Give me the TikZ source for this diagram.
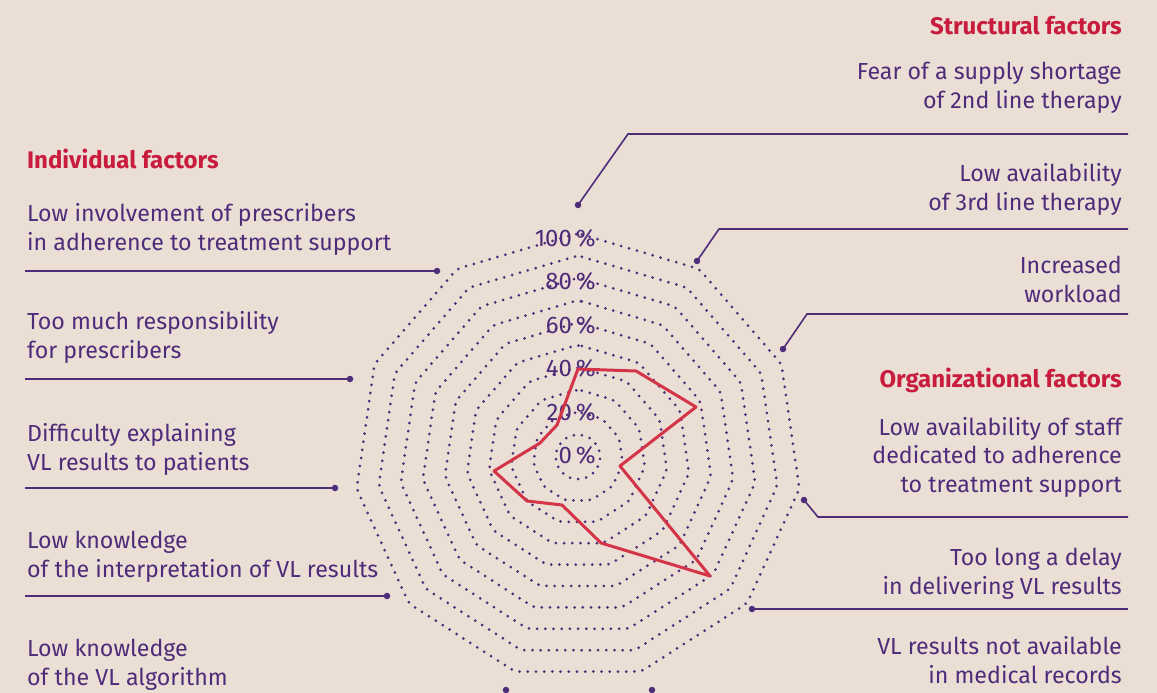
\documentclass[tikz,border=0pt]{standalone}
\usepackage{fontspec}
\setmainfont{Fira Sans}
\definecolor{bg}{RGB}{235,222,212}
\definecolor{pur}{RGB}{76,45,122}
\definecolor{rd}{RGB}{200,28,62}
\definecolor{rdline}{RGB}{212,52,72}
\begin{document}
\begin{tikzpicture}[x=1pt,y=-1pt,
  lbl/.style={font=\fontsize{23.2}{28.5}\selectfont, text=pur, inner sep=0pt},
  lblL/.style={lbl, align=left, anchor=base west},
  lblR/.style={lbl, align=right, anchor=base east},
  hdr/.style={font=\fontsize{24}{28.5}\selectfont\bfseries, text=rd, inner sep=0pt},
  pct/.style={font=\fontsize{24}{28}\selectfont, text=pur, inner sep=0pt, anchor=base east},
  ring/.style={draw=pur, line width=3pt, line cap=round, dash pattern=on 0pt off 8.2pt, rounded corners=4pt},
  leader/.style={draw=pur, line width=1.6pt},
  enddot/.style={circle, fill=pur, inner sep=0pt, minimum size=6.5pt},
  dataline/.style={draw=rdline, line width=3pt, line join=round}]
\fill[bg] (0,0) rectangle (1157,693);
\useasboundingbox (0,0) rectangle (1157,693);

% rings
\begin{scope}[shift={(578,457)}]
  \foreach \k in {1,...,10}{
    \pgfmathsetmacro{\R}{(21.4*\k+0.6)/0.9595}
    \draw[ring] (-90:\R) \foreach \i in {1,...,10}{ -- ({-90+\i*360/11}:\R) } -- cycle;
  }
\end{scope}

% percent labels
\foreach \j/\t in {0/0,1/20,2/40,3/60,4/80,5/100}{
  \node[pct] (p\t) at (596,{463.5-43.4*\j}) {\t\,\%};
}

% data polygon
\coordinate (v0) at (578,369);
\coordinate (v1) at (636,371);
\coordinate (v2) at (696,407);
\coordinate (v3) at (620,466);
\coordinate (v4) at (710,576);
\coordinate (v5) at (601,543);
\coordinate (v6) at (562,505);
\coordinate (v7) at (527,501);
\coordinate (v8) at (494,471);
\coordinate (v9) at (540,443);
\coordinate (v10) at (557,425);
\draw[dataline] (v0) -- (v1) -- (v2) -- (v3) -- (v4) -- (v5) -- (v6) -- (v7) -- (v8) -- (v9) -- (v10) -- cycle;

% headers
\node[hdr, anchor=base east] (struct) at (1122,35) {Structural factors};
\node[hdr, anchor=base west] (indiv) at (27,168) {Individual factors};
\node[hdr, anchor=base east] (org) at (1122,387) {Organizational factors};

% right labels (anchor = baseline of last line)
\node[lblR] (fear) at (1122,108) {Fear of a supply shortage\\of 2nd line therapy};
\node[lblR] (third) at (1122,210) {Low availability\\of 3rd line therapy};
\node[lblR] (work) at (1122,302) {Increased\\workload};
\node[lblR] (staff) at (1122,492) {Low availability of staff\\dedicated to adherence\\to treatment support};
\node[lblR] (delay) at (1122,594) {Too long a delay\\in delivering VL results};
\node[lblR] (records) at (1122,683) {VL results not available\\in medical records};

% left labels
\node[lblL] (involve) at (27,250) {Low involvement of prescribers\\in adherence to treatment support};
\node[lblL] (resp) at (27,358) {Too much responsibility\\for prescribers};
\node[lblL] (explain) at (27,470) {Difficulty explaining\\VL results to patients};
\node[lblL] (interp) at (27,577) {Low knowledge\\of the interpretation of VL results};
\node[lblL] (algo) at (27,685) {Low knowledge\\of the VL algorithm};

% leader dots
\node[enddot] (d1) at (578,205) {};
\node[enddot] (d2) at (697,261) {};
\node[enddot] (d3) at (783,349) {};
\node[enddot] (d4) at (804,500) {};
\node[enddot] (d5) at (752,609) {};
\node[enddot] (d6) at (652,690) {};
\node[enddot] (d7) at (437,271) {};
\node[enddot] (d8) at (350,379) {};
\node[enddot] (d9) at (335,488) {};
\node[enddot] (d10) at (387,596) {};
\node[enddot] (d11) at (506,690) {};

% leader knees and ends
\coordinate (k1) at (628,134); \coordinate (e1) at (1128,134);
\coordinate (k2) at (719,229); \coordinate (e2) at (1128,229);
\coordinate (k3) at (807,314); \coordinate (e3) at (1128,314);
\coordinate (k4) at (818,517); \coordinate (e4) at (1128,517);
\coordinate (e5) at (1128,609);
\coordinate (e7) at (25,271);
\coordinate (e8) at (25,379);
\coordinate (e9) at (25,488);
\coordinate (e10) at (25,596);

\draw[leader] (d1.center) -- (k1) -- (e1);
\draw[leader] (d2.center) -- (k2) -- (e2);
\draw[leader] (d3.center) -- (k3) -- (e3);
\draw[leader] (d4.center) -- (k4) -- (e4);
\draw[leader] (d5.center) -- (e5);
\draw[leader] (d7.center) -- (e7);
\draw[leader] (d8.center) -- (e8);
\draw[leader] (d9.center) -- (e9);
\draw[leader] (d10.center) -- (e10);
\end{tikzpicture}
\end{document}
